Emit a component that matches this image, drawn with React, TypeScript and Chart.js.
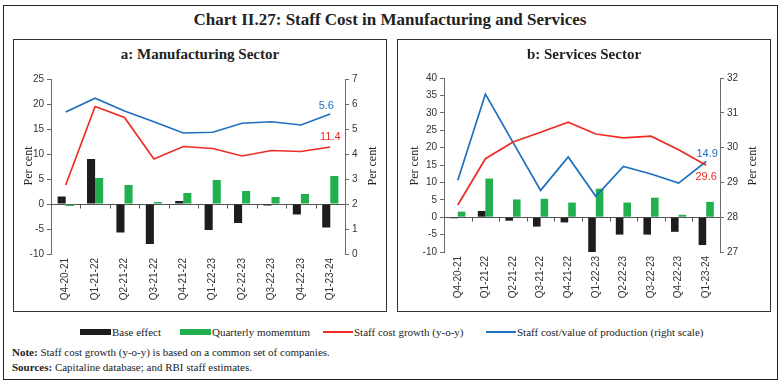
import React, { useEffect, useRef } from 'react';
import { Chart, registerables } from 'chart.js';

Chart.register(...registerables);

// ---------- data ----------
const quarters = ['Q4-20-21', 'Q1-21-22', 'Q2-21-22', 'Q3-21-22', 'Q4-21-22', 'Q1-22-23', 'Q2-22-23', 'Q3-22-23', 'Q4-22-23', 'Q1-23-24'];

const seriesNames = ['Base effect', 'Quarterly momemtum', 'Staff cost growth (y-o-y)', 'Staff cost/value of production (right scale)'];

// a: Manufacturing Sector
const mfgBase = [1.5, 9.0, -5.7, -8.0, 0.6, -5.2, -3.8, -0.3, -2.1, -4.7];
const mfgMomentum = [-0.4, 5.2, 3.8, 0.4, 2.2, 4.8, 2.6, 1.4, 2.0, 5.6];
const mfgGrowth = [3.8, 19.5, 17.3, 9.0, 11.5, 11.1, 9.6, 10.7, 10.5, 11.4];
const mfgShare = [5.68, 6.23, 5.72, 5.29, 4.84, 4.87, 5.23, 5.29, 5.16, 5.6];
const mfgEndLabels = ['5.6', '11.4']; // blue, red (as printed)

// b: Services Sector
const svcBase = [-0.3, 1.8, -1.0, -2.7, -1.5, -10.3, -5.0, -5.0, -4.2, -8.0];
const svcMomentum = [1.6, 11.1, 5.1, 5.3, 4.2, 8.2, 4.2, 5.6, 0.7, 4.4];
const svcGrowth = [3.5, 16.8, 21.6, 24.4, 27.3, 23.9, 22.8, 23.3, 19.4, 14.9];
const svcShare = [29.06, 31.54, 30.15, 28.77, 29.73, 28.6, 29.46, 29.24, 28.98, 29.6];
const svcEndLabels = ['14.9', '29.6']; // blue, red (as printed)

// axis ranges
const mfgLeftRange = [-10, 25, 5];
const mfgRightRange = [0, 7, 1];
const svcLeftRange = [-10, 40, 5];
const svcRightRange = [27, 32, 1];

const titles = ['Chart II.27: Staff Cost in Manufacturing and Services', 'a: Manufacturing Sector', 'b: Services Sector'];
const axisTitle = 'Per cent';
const noteText = ['Note:', ' Staff cost growth (y-o-y) is based on a common set of companies.'];
const sourceText = ['Sources:', ' Capitaline database; and RBI staff estimates.'];

// ---------- styles ----------
const BLACK = '#1e1c1d';
const GREEN = '#22b04e';
const RED = '#ee2b24';
const BLUE = '#1f6fbf';
const AXIS = '#6b6b6b';
const SERIF = '"Liberation Serif", "DejaVu Serif", serif';
const SANS = '"Liberation Sans", Arial, sans-serif';

type Panel = {
  base: number[];
  momentum: number[];
  growth: number[];
  share: number[];
  left: number[];
  right: number[];
  endLabels: string[];
  leftW: number;
  rightW: number;
  topPad: number;
  xH: number;
  blueDy: number;
  redDy: number;
  blueDx: number;
};

const zeroLinePlugin = {
  id: 'zeroLine',
  beforeDatasetsDraw(chart: any) {
    const { ctx, chartArea, scales } = chart;
    const y0 = Math.round(scales.y.getPixelForValue(0)) + 0.5;
    const xs = scales.x;
    ctx.save();
    ctx.strokeStyle = '#555';
    ctx.lineWidth = 1;
    ctx.beginPath();
    ctx.moveTo(chartArea.left, y0);
    ctx.lineTo(chartArea.right, y0);
    for (let i = 1; i < quarters.length; i++) {
      const bx = Math.round((xs.getPixelForValue(i - 1) + xs.getPixelForValue(i)) / 2) + 0.5;
      ctx.moveTo(bx, y0);
      ctx.lineTo(bx, y0 + 4);
    }
    ctx.stroke();
    ctx.restore();
  },
};

const endLabelPlugin = {
  id: 'endLabels',
  afterDatasetsDraw(chart: any, _args: any, opts: any) {
    const { ctx } = chart;
    const n = quarters.length;
    const blueMeta = chart.getDatasetMeta(3);
    const redMeta = chart.getDatasetMeta(2);
    const bp = blueMeta.data[n - 1];
    const rp = redMeta.data[n - 1];
    ctx.save();
    ctx.font = `11px ${SANS}`;
    ctx.textAlign = 'center';
    ctx.textBaseline = 'middle';
    ctx.fillStyle = BLUE;
    ctx.fillText(opts.labels[0], bp.x + opts.blueDx, bp.y + opts.blueDy);
    ctx.fillStyle = RED;
    ctx.fillText(opts.labels[1], rp.x, rp.y + opts.redDy);
    ctx.restore();
  },
};

function SectorChart({ p, width, height }: { p: Panel; width: number; height: number }) {
  const ref = useRef<HTMLCanvasElement>(null);
  useEffect(() => {
    const tickFont = { family: SANS, size: 10 };
    const chart = new Chart(ref.current as HTMLCanvasElement, {
      type: 'bar',
      data: {
        labels: quarters,
        datasets: [
          { type: 'bar', label: seriesNames[0], data: p.base, backgroundColor: BLACK, yAxisID: 'y', order: 2, categoryPercentage: 0.55, barPercentage: 1 } as any,
          { type: 'bar', label: seriesNames[1], data: p.momentum, backgroundColor: GREEN, yAxisID: 'y', order: 2, categoryPercentage: 0.55, barPercentage: 1 } as any,
          { type: 'line', label: seriesNames[2], data: p.growth, borderColor: RED, backgroundColor: RED, borderWidth: 1.7, pointRadius: 0, tension: 0, yAxisID: 'y', order: 0 } as any,
          { type: 'line', label: seriesNames[3], data: p.share, borderColor: BLUE, backgroundColor: BLUE, borderWidth: 1.7, pointRadius: 0, tension: 0, yAxisID: 'y1', order: 0 } as any,
        ],
      },
      options: {
        animation: false,
        responsive: false,
        maintainAspectRatio: false,
        layout: { padding: { top: p.topPad, left: 0, right: 0, bottom: 0 } },
        plugins: {
          legend: { display: false },
          tooltip: { enabled: false },
          title: { display: false },
          endLabels: { labels: p.endLabels, blueDy: p.blueDy, redDy: p.redDy, blueDx: p.blueDx },
        } as any,
        scales: {
          x: {
            type: 'category',
            offset: true,
            grid: { display: false, drawTicks: false },
            border: { display: false },
            ticks: { minRotation: 90, maxRotation: 90, autoSkip: false, padding: 4, font: tickFont, color: '#333' },
            afterFit: (s: any) => { s.height = p.xH; },
          },
          y: {
            position: 'left',
            min: p.left[0],
            max: p.left[1],
            ticks: { stepSize: p.left[2], font: tickFont, color: '#333', padding: 3 },
            grid: { drawOnChartArea: false, drawTicks: true, tickLength: 4, color: AXIS },
            border: { display: true, color: AXIS },
            afterFit: (s: any) => { s.width = p.leftW; },
          },
          y1: {
            position: 'right',
            min: p.right[0],
            max: p.right[1],
            ticks: { stepSize: p.right[2], font: tickFont, color: '#333', padding: 3 },
            grid: { drawOnChartArea: false, drawTicks: true, tickLength: 4, color: AXIS },
            border: { display: true, color: AXIS },
            afterFit: (s: any) => { s.width = p.rightW; },
          },
        },
      } as any,
      plugins: [zeroLinePlugin, endLabelPlugin],
    });
    return () => chart.destroy();
  }, []);
  return <canvas ref={ref} width={width} height={height} style={{ position: 'absolute', left: 0, top: 0, width, height }} />;
}

const rotLabel = (left: number, top: number): React.CSSProperties => ({
  position: 'absolute',
  left,
  top,
  width: 80,
  marginLeft: -40,
  marginTop: -8,
  height: 16,
  lineHeight: '16px',
  textAlign: 'center',
  transform: 'rotate(-90deg)',
  fontFamily: SERIF,
  fontSize: 12,
  color: '#222',
});

function PanelBox({ left, title, p, yTitleX }: { left: number; title: string; p: Panel; yTitleX: number[] }) {
  const W = 374;
  const H = 273;
  return (
    <div style={{ position: 'absolute', left, top: 39, width: W, height: H, border: '1px solid #333', boxSizing: 'border-box' }}>
      <div style={{ position: 'absolute', left: 0, top: 6, width: W - 2, textAlign: 'center', fontFamily: SERIF, fontWeight: 'bold', fontSize: 15, color: '#222' }}>{title}</div>
      <SectorChart p={p} width={W - 2} height={H - 2} />
      <div style={rotLabel(yTitleX[0], 126)}>{axisTitle}</div>
      <div style={rotLabel(yTitleX[1], 126)}>{axisTitle}</div>
    </div>
  );
}

function LegendItem({ left, kind, color, text }: { left: number; kind: 'bar' | 'line'; color: string; text: string }) {
  return (
    <div style={{ position: 'absolute', left, top: 324, height: 16, display: 'flex', alignItems: 'center', whiteSpace: 'nowrap' }}>
      <div style={{ width: kind === 'bar' ? 31 : 30, height: kind === 'bar' ? 6 : 2, background: color, marginRight: 1 }} />
      <span style={{ fontFamily: SERIF, fontSize: 11, color: '#222' }}>{text}</span>
    </div>
  );
}

export default function App() {
  const mfg: Panel = {
    base: mfgBase, momentum: mfgMomentum, growth: mfgGrowth, share: mfgShare,
    left: mfgLeftRange, right: mfgRightRange, endLabels: mfgEndLabels,
    leftW: 37, rightW: 41, topPad: 39, xH: 57, blueDy: -8, redDy: -10, blueDx: -4,
  };
  const svc: Panel = {
    base: svcBase, momentum: svcMomentum, growth: svcGrowth, share: svcShare,
    left: svcLeftRange, right: svcRightRange, endLabels: svcEndLabels,
    leftW: 46, rightW: 50, topPad: 38, xH: 59, blueDy: -8, redDy: 12, blueDx: 1,
  };
  return (
    <div style={{ position: 'absolute', left: 0, top: 0, width: 780, height: 384, background: '#fff', overflow: 'hidden' }}>
      <div style={{ position: 'absolute', left: 3, top: 5, width: 775, height: 375, border: '1px solid #222', boxSizing: 'border-box' }} />
      <div style={{ position: 'absolute', left: 0, top: 10, width: 780, textAlign: 'center', fontFamily: SERIF, fontWeight: 'bold', fontSize: 17, color: '#222' }}>{titles[0]}</div>
      <PanelBox left={13} title={titles[1]} p={mfg} yTitleX={[14, 358]} />
      <PanelBox left={397} title={titles[2]} p={svc} yTitleX={[16, 354]} />
      <LegendItem left={80} kind="bar" color={BLACK} text={seriesNames[0]} />
      <LegendItem left={180} kind="bar" color={GREEN} text={seriesNames[1]} />
      <LegendItem left={323} kind="line" color={RED} text={seriesNames[2]} />
      <LegendItem left={486} kind="line" color={BLUE} text={seriesNames[3]} />
      <div style={{ position: 'absolute', left: 12, top: 345, fontFamily: SERIF, fontSize: 11, color: '#222', lineHeight: '15px' }}>
        <div><b>{noteText[0]}</b>{noteText[1]}</div>
        <div><b>{sourceText[0]}</b>{sourceText[1]}</div>
      </div>
    </div>
  );
}
